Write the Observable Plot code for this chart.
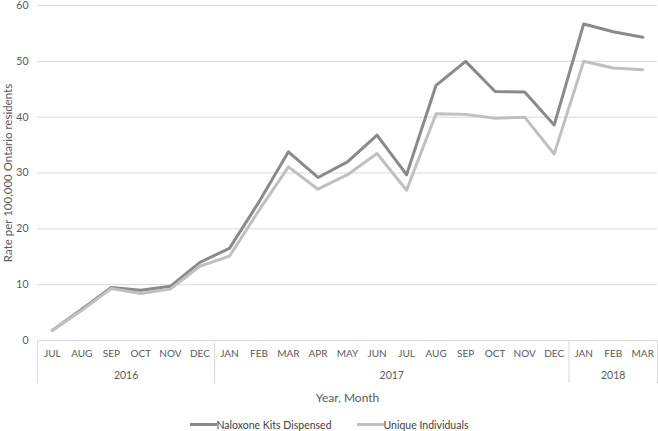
<!DOCTYPE html>
<html><head><meta charset="utf-8">
<script src="https://cdn.jsdelivr.net/npm/d3@7"></script>
<script src="https://cdn.jsdelivr.net/npm/@observablehq/plot@0.6"></script>
<style>
body{margin:0;background:#fff;font-family:Lato,"Open Sans",sans-serif;}
#legend{display:flex;justify-content:center;align-items:center;gap:25px;height:17px;padding-top:6px;font-size:10.5px;color:#404040;}
#legend .item{display:flex;align-items:center;}
#legend .sw{display:inline-block;width:27px;height:3px;}
</style></head><body><div id="chart"></div><div id="legend"></div>
<script>
const months = ["JUL","AUG","SEP","OCT","NOV","DEC","JAN","FEB","MAR","APR","MAY","JUN","JUL","AUG","SEP","OCT","NOV","DEC","JAN","FEB","MAR"];
const monthYears = ["2016","2016","2016","2016","2016","2016","2017","2017","2017","2017","2017","2017","2017","2017","2017","2017","2017","2017","2018","2018","2018"];
const years = ["2016","2017","2018"];
const naloxone = [1.8,5.6,9.5,9.0,9.7,14.0,16.5,24.8,33.8,29.2,32.0,36.8,29.7,45.7,50.0,44.6,44.5,38.6,56.7,55.3,54.3];
const unique = [1.8,5.4,9.3,8.4,9.2,13.3,15.1,23.3,31.1,27.1,29.7,33.5,26.9,40.6,40.5,39.8,40.0,33.4,50.0,48.8,48.5];
const yTicks = [0,10,20,30,40,50,60];
const seriesNames = ["Naloxone Kits Dispensed","Unique Individuals"];
const seriesColors = ["#8a8a8a","#c0c0c0"];
const yTitle = "Rate per 100,000 Ontario residents";
const xTitle = "Year, Month";

const idx = months.map((_, i) => i);
const rows = [
  ...idx.map(i => ({i, v: naloxone[i], s: seriesNames[0]})),
  ...idx.map(i => ({i, v: unique[i], s: seriesNames[1]}))
];
const groups = years.map(y => {
  const ii = idx.filter(i => monthYears[i] === y);
  return {year: y, first: ii[0], last: ii[ii.length - 1]};
});
const yearCenters = groups.map(g => (g.first + g.last) / 2);
const bounds = [groups[0].first - 0.5, ...groups.map(g => g.last + 0.5)];

const chart = Plot.plot({
  width: 658, height: 410,
  marginTop: 5, marginLeft: 37, marginRight: 1, marginBottom: 70,
  style: {fontFamily: "Lato, 'Open Sans', sans-serif", fontSize: "10px", color: "#595959", background: "#fff"},
  x: {domain: [-0.5, months.length - 0.5]},
  y: {domain: [0, 60]},
  color: {domain: seriesNames, range: seriesColors},
  marks: [
    Plot.ruleY(yTicks, {y: d => d, stroke: "#d9d9d9", strokeWidth: 1}),
    Plot.ruleX(bounds, {x: d => d, y1: 0, y2: 0, insetBottom: -43, stroke: "#d9d9d9", strokeWidth: 1}),
    Plot.axisY(yTicks, {tickSize: 0, tickPadding: 9, label: null, fontSize: 10.5}),
    Plot.axisX(idx, {tickSize: 0, tickPadding: 9, tickFormat: i => months[i], label: null, fontSize: 10}),
    Plot.axisX(yearCenters, {tickSize: 0, tickPadding: 31, tickFormat: d => groups[yearCenters.indexOf(d)].year, label: null, fontSize: 10.5}),
    Plot.text([yTitle], {frameAnchor: "left", textAnchor: "middle", lineAnchor: "middle", rotate: -90, dx: -29, fontSize: 11.5, fill: "#595959"}),
    Plot.text([xTitle], {frameAnchor: "bottom", textAnchor: "middle", lineAnchor: "middle", dy: 58, fontSize: 12, fill: "#595959"}),
    Plot.line(rows, {x: "i", y: "v", stroke: "s", z: "s", strokeWidth: 3})
  ]
});
document.getElementById("chart").appendChild(chart);

const legend = document.getElementById("legend");
seriesNames.forEach((name, k) => {
  const item = document.createElement("span");
  item.className = "item";
  const sw = document.createElement("span");
  sw.className = "sw";
  sw.style.background = seriesColors[k];
  const t = document.createElement("span");
  t.textContent = name;
  item.appendChild(sw);
  item.appendChild(t);
  legend.appendChild(item);
});
</script>
</body></html>
